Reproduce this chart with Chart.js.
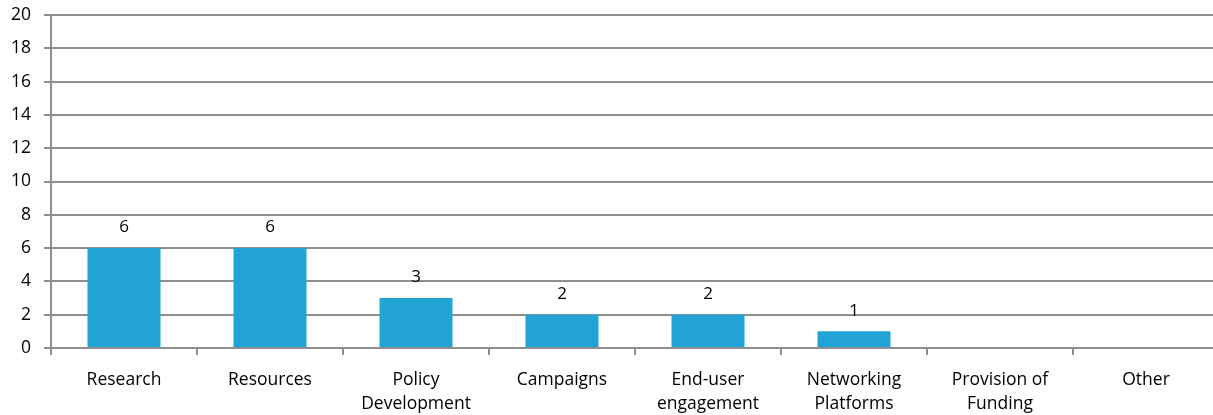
<!DOCTYPE html>
<html>
<head>
<meta charset="utf-8">
<script src="https://cdn.jsdelivr.net/npm/chart.js@4/dist/chart.umd.min.js"></script>
<style>
  html, body { margin: 0; padding: 0; background: #fff; overflow: hidden; }
  #wrap { width: 1219px; height: 415px; position: relative; }
</style>
</head>
<body>
<div id="wrap"><canvas id="bar-chart"></canvas></div>
<script>
const categories = [
    'Research', 'Resources', ['Policy', 'Development'], 'Campaigns',
    ['End-user', 'engagement'], ['Networking', 'Platforms'], ['Provision of', 'Funding'], 'Other'
];
const counts = [6, 6, 3, 2, 2, 1, null, null];
const yTicks = [0, 2, 4, 6, 8, 10, 12, 14, 16, 18, 20];

const gridColor = '#8e8e8e';
const fontFamily = "'Open Sans', 'Noto Sans', sans-serif";

// writes the value above each bar
const valueLabels = {
    id: 'valueLabels',
    afterDatasetsDraw(chart) {
        const ctx = chart.ctx;
        const meta = chart.getDatasetMeta(0);
        ctx.save();
        ctx.fillStyle = '#000';
        ctx.font = '17px ' + fontFamily;
        ctx.textAlign = 'center';
        ctx.textBaseline = 'bottom';
        meta.data.forEach((bar, i) => {
            if (counts[i] == null) return;
            ctx.fillText(String(counts[i]), bar.x, bar.y - 12);
        });
        ctx.restore();
    }
};

new Chart(document.getElementById('bar-chart'), {
    type: 'bar',
    data: {
        labels: categories,
        datasets: [{
            data: counts,
            backgroundColor: '#22a3d6',
            borderWidth: 0,
            barPercentage: 0.5,
            categoryPercentage: 1
        }]
    },
    options: {
        responsive: true,
        maintainAspectRatio: false,
        animation: false,
        layout: { padding: { top: 15, right: 0, left: 0, bottom: 0 } },
        plugins: {
            legend: { display: false },
            tooltip: { enabled: false }
        },
        scales: {
            x: {
                offset: true,
                grid: {
                    offset: true,
                    drawOnChartArea: false,
                    drawTicks: true,
                    tickLength: 7,
                    color: gridColor,
                    lineWidth: 2
                },
                border: { color: gridColor, width: 2 },
                ticks: {
                    color: '#000',
                    padding: 13,
                    maxRotation: 0,
                    autoSkip: false,
                    font: { family: fontFamily, size: 17.5, lineHeight: 1.37 }
                },
                afterFit(axis) {
                    axis.height = 67;
                    axis.paddingLeft = 0;
                    axis.paddingRight = 0;
                }
            },
            y: {
                min: 0,
                max: 20,
                afterBuildTicks(axis) { axis.ticks = yTicks.map(v => ({ value: v })); },
                grid: {
                    color: gridColor,
                    lineWidth: 2,
                    tickLength: 7
                },
                border: { color: gridColor, width: 2 },
                ticks: {
                    color: '#000',
                    padding: 13,
                    font: { family: fontFamily, size: 17.5 }
                },
                afterFit(axis) {
                    axis.width = 51;
                    axis.paddingTop = 0;
                    axis.paddingBottom = 0;
                }
            }
        }
    },
    plugins: [valueLabels]
});
</script>
</body>
</html>
